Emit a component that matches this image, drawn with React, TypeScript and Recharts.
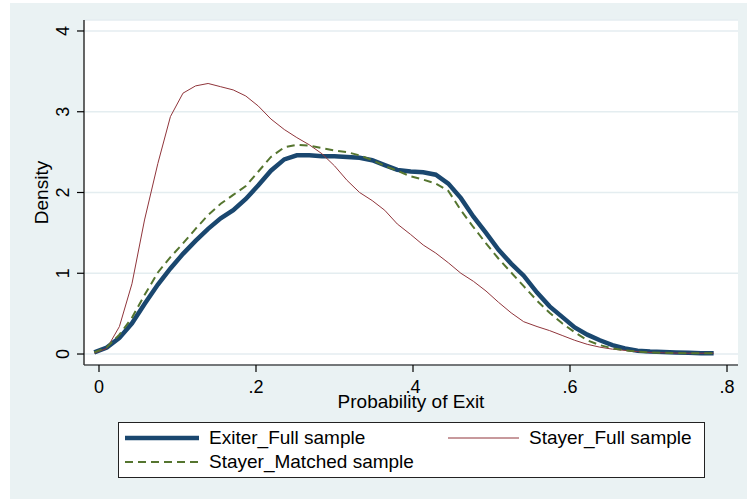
import React from "react";
import { LineChart, Line, XAxis, YAxis, CartesianGrid, Legend } from "recharts";

// Evaluation points (probability of exit)
const X_VALUES = [
  -0.006, 0.010, 0.026, 0.042, 0.058, 0.075, 0.091, 0.107, 0.123, 0.139,
  0.155, 0.171, 0.187, 0.203, 0.219, 0.236, 0.252, 0.268, 0.284, 0.300,
  0.316, 0.332, 0.348, 0.364, 0.380, 0.397, 0.413, 0.429, 0.445, 0.461,
  0.477, 0.493, 0.509, 0.525, 0.541, 0.558, 0.574, 0.590, 0.606, 0.622,
  0.638, 0.654, 0.670, 0.686, 0.702, 0.719, 0.735, 0.751, 0.767, 0.783,
];

const EXITER_FULL = [
  0.02, 0.08, 0.20, 0.38, 0.62, 0.86, 1.06, 1.24, 1.40, 1.55,
  1.68, 1.78, 1.92, 2.09, 2.27, 2.41, 2.46, 2.46, 2.45, 2.45,
  2.44, 2.43, 2.40, 2.34, 2.28, 2.26, 2.25, 2.22, 2.11, 1.93,
  1.70, 1.50, 1.29, 1.12, 0.97, 0.76, 0.59, 0.46, 0.33, 0.24,
  0.17, 0.11, 0.07, 0.04, 0.03, 0.025, 0.02, 0.015, 0.01, 0.008,
];

const STAYER_FULL = [
  0.01, 0.07, 0.34, 0.87, 1.66, 2.36, 2.94, 3.23, 3.32, 3.35,
  3.31, 3.27, 3.195, 3.07, 2.91, 2.78, 2.68, 2.59, 2.48, 2.33,
  2.15, 2.00, 1.90, 1.78, 1.61, 1.48, 1.35, 1.25, 1.13, 1.00,
  0.90, 0.78, 0.64, 0.51, 0.40, 0.34, 0.29, 0.23, 0.17, 0.12,
  0.085, 0.06, 0.045, 0.03, 0.02, 0.015, 0.012, 0.01, 0.01, 0.01,
];

const STAYER_MATCHED = [
  0.02, 0.085, 0.24, 0.45, 0.73, 1.01, 1.20, 1.37, 1.55, 1.72,
  1.86, 1.97, 2.08, 2.26, 2.44, 2.56, 2.59, 2.58, 2.55, 2.52,
  2.50, 2.46, 2.40, 2.33, 2.27, 2.20, 2.16, 2.11, 2.02, 1.78,
  1.57, 1.37, 1.18, 1.01, 0.84, 0.66, 0.51, 0.38, 0.27, 0.17,
  0.11, 0.07, 0.045, 0.03, 0.02, 0.015, 0.012, 0.01, 0.01, 0.008,
];

const X_TICKS = [0, 0.2, 0.4, 0.6, 0.8];
const Y_TICKS = [0, 1, 2, 3, 4];
const SERIES_NAMES = ["Exiter_Full sample", "Stayer_Full sample", "Stayer_Matched sample"];

const data = X_VALUES.map((x, i) => ({
  x,
  exiter: EXITER_FULL[i],
  stayerFull: STAYER_FULL[i],
  stayerMatched: STAYER_MATCHED[i],
}));

const FONT = "'Liberation Sans', Arial, Helvetica, sans-serif";
const BLUE = "#1a476f";
const RED = "#90353b";
const GREEN = "#55752f";
const BG = "#eaf2f3";

const fmtX = (v: number) => (v === 0 ? "0" : String(v).replace(/^0/, ""));

const YTick = (props: any) => {
  const { x, y, payload } = props;
  return (
    <text
      x={x}
      y={y}
      transform={`rotate(-90 ${x} ${y})`}
      textAnchor="middle"
      fontSize={18}
      fill="#000"
      fontFamily={FONT}
    >
      {payload.value}
    </text>
  );
};

const LegendBox = () => (
  <div
    style={{
      width: 587,
      height: 56,
      boxSizing: "border-box",
      border: "1px solid #222",
      background: "#fff",
    }}
  >
    <svg width={585} height={54} style={{ display: "block" }}>
      <line x1={6} x2={80} y1={15} y2={15} stroke={BLUE} strokeWidth={4.5} />
      <text x={90} y={21} fontSize={19} fontFamily={FONT} fill="#000">
        {SERIES_NAMES[0]}
      </text>
      <line x1={329} x2={400} y1={15} y2={15} stroke={RED} strokeWidth={1} />
      <text x={410} y={21} fontSize={19} fontFamily={FONT} fill="#000">
        {SERIES_NAMES[1]}
      </text>
      <line x1={6} x2={80} y1={39} y2={39} stroke={GREEN} strokeWidth={2} strokeDasharray="8 5" />
      <text x={90} y={45} fontSize={19} fontFamily={FONT} fill="#000">
        {SERIES_NAMES[2]}
      </text>
    </svg>
  </div>
);

export default function App() {
  return (
    <div style={{ position: "absolute", left: 0, top: 0, width: 747, height: 499, background: "#fff", fontFamily: FONT }}>
      <div style={{ position: "absolute", left: 10, top: 3, width: 737, height: 496, background: BG }} />
      <div style={{ position: "absolute", left: 0, top: 0 }}>
        <LineChart width={747} height={499} data={data} margin={{ top: 20, right: 9, bottom: 74, left: 10 }}>
          <CartesianGrid vertical={false} stroke="#e4edf0" strokeWidth={1.5} fill="#fff" />
          <XAxis
            dataKey="x"
            type="number"
            domain={[-0.0191, 0.814]}
            ticks={X_TICKS}
            allowDataOverflow
            tickFormatter={fmtX}
            tickSize={7}
            tickMargin={8}
            height={60}
            axisLine={{ stroke: "#000", strokeWidth: 1.2 }}
            tickLine={{ stroke: "#000", strokeWidth: 1.2 }}
            tick={{ fontSize: 18, fill: "#000", fontFamily: FONT }}
            label={{
              content: (p: any) => {
                const vb = p.viewBox || {};
                return (
                  <text
                    x={vb.x + vb.width / 2}
                    y={vb.y + 43}
                    textAnchor="middle"
                    fontSize={19}
                    fill="#000"
                    fontFamily={FONT}
                  >
                    Probability of Exit
                  </text>
                );
              },
            }}
          />
          <YAxis
            type="number"
            domain={[-0.136, 4.136]}
            ticks={Y_TICKS}
            allowDataOverflow
            width={74}
            tickSize={7}
            tickMargin={8}
            axisLine={{ stroke: "#333", strokeWidth: 1.5 }}
            tickLine={{ stroke: "#000", strokeWidth: 1.2 }}
            tick={<YTick />}
            label={{
              content: (p: any) => {
                const vb = p.viewBox || {};
                const cx = vb.x + 38;
                const cy = vb.y + vb.height / 2;
                return (
                  <text
                    x={cx}
                    y={cy}
                    transform={`rotate(-90 ${cx} ${cy})`}
                    textAnchor="middle"
                    fontSize={19}
                    fill="#000"
                    fontFamily={FONT}
                  >
                    Density
                  </text>
                );
              },
            }}
          />
          <Legend
            layout="horizontal"
            verticalAlign="middle"
            align="center"
            wrapperStyle={{ left: 118, top: 422, width: 587, height: 56 }}
            content={() => <LegendBox />}
          />
          <Line
            type="linear"
            dataKey="exiter"
            name={SERIES_NAMES[0]}
            stroke={BLUE}
            strokeWidth={4.5}
            dot={false}
            isAnimationActive={false}
          />
          <Line
            type="linear"
            dataKey="stayerFull"
            name={SERIES_NAMES[1]}
            stroke={RED}
            strokeWidth={1}
            dot={false}
            isAnimationActive={false}
          />
          <Line
            type="linear"
            dataKey="stayerMatched"
            name={SERIES_NAMES[2]}
            stroke={GREEN}
            strokeWidth={2}
            strokeDasharray="8 5"
            dot={false}
            isAnimationActive={false}
          />
        </LineChart>
      </div>
    </div>
  );
}
